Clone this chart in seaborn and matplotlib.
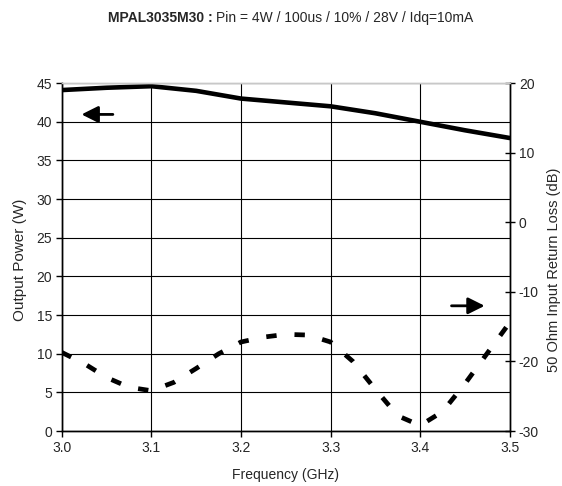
import pandas as pd
import matplotlib
matplotlib.use('Agg')
import matplotlib.pyplot as plt
import seaborn as sns

# Output power (W), left axis
freq_pout = [3.00, 3.05, 3.10, 3.15, 3.20, 3.25, 3.30, 3.35, 3.40, 3.45, 3.50]
pout = [44.1, 44.4, 44.6, 44.0, 43.0, 42.5, 42.0, 41.1, 40.0, 38.9, 37.9]

# Input return loss (dB), right axis
freq_rl = [3.000, 3.025, 3.050, 3.075, 3.100, 3.125, 3.150, 3.175, 3.200, 3.225,
           3.250, 3.275, 3.300, 3.325, 3.350, 3.375, 3.400, 3.425, 3.450, 3.475, 3.500]
rl = [-18.7, -20.3, -22.3, -23.7, -24.2, -23.0, -21.0, -18.9, -17.2, -16.5,
      -16.1, -16.2, -17.2, -20.0, -24.0, -27.8, -29.2, -27.2, -23.2, -18.8, -14.4]

x_ticks = [3.0, 3.1, 3.2, 3.3, 3.4, 3.5]

sns.set_style('white')
plt.rcParams['font.family'] = ['Liberation Sans', 'DejaVu Sans']
plt.rcParams['axes.unicode_minus'] = False

df_p = pd.DataFrame({'Frequency': freq_pout, 'Pout': pout})
df_r = pd.DataFrame({'Frequency': freq_rl, 'RL': rl})

fig = plt.figure(figsize=(5.62, 4.86), dpi=100)
ax = fig.add_axes([0.110, 0.113, 0.797, 0.716])
ax2 = ax.twinx()

sns.lineplot(data=df_p, x='Frequency', y='Pout', ax=ax, color='black', lw=3.3)
sns.lineplot(data=df_r, x='Frequency', y='RL', ax=ax2, color='black', lw=3.4,
             dashes=False)
ax2.lines[0].set_dashes((2.2, 3.8))
ax2.lines[0].set_dash_capstyle('butt')

ax.set_xlim(3.0, 3.5)
ax.set_ylim(0, 45)
ax.set_yticks(range(0, 46, 5))
ax.set_xticks(x_ticks)
ax.set_xticklabels([f'{v:.1f}' for v in x_ticks])
ax2.set_ylim(-30, 20)
ax2.set_yticks(range(-30, 21, 10))

ax.grid(True, color='black', lw=0.8)
ax.set_axisbelow(True)

for a in (ax, ax2):
    for s in a.spines.values():
        s.set_color('black')
        s.set_linewidth(1.0)
    a.spines['top'].set_color('#c8c8c8')
ax.tick_params(axis='both', direction='out', length=4, width=1, labelsize=10, pad=3,
               left=True, bottom=True, color='black')
ax2.tick_params(axis='y', direction='inout', length=7, width=1, labelsize=10, pad=3,
                right=True, color='black')

ax.set_xlabel('Frequency (GHz)', fontsize=10)
ax.set_ylabel('Output Power (W)', fontsize=11)
ax2.set_ylabel('50 Ohm Input Return Loss (dB)', fontsize=10.5)
ax.xaxis.set_label_coords(0.5, -0.106)
ax.yaxis.set_label_coords(-0.078, 0.491)
ax2.yaxis.set_label_coords(1.083, 0.463)

# direction arrows
arrow = dict(arrowstyle='-|>,head_length=1.0,head_width=0.5', color='black', lw=2,
             shrinkA=0, shrinkB=0)
ax.annotate('', xy=(3.022, 40.95), xytext=(3.057, 40.95), arrowprops=arrow)
ax.annotate('', xy=(3.472, 16.2), xytext=(3.435, 16.2), arrowprops=arrow)

fig.text(0.378, 0.962, 'MPAL3035M30 :', ha='right', va='center', fontsize=10,
         fontweight='bold')
fig.text(0.385, 0.962, 'Pin = 4W / 100us / 10% / 28V / Idq=10mA', ha='left',
         va='center', fontsize=10)

plt.savefig('out.png', dpi=100)
